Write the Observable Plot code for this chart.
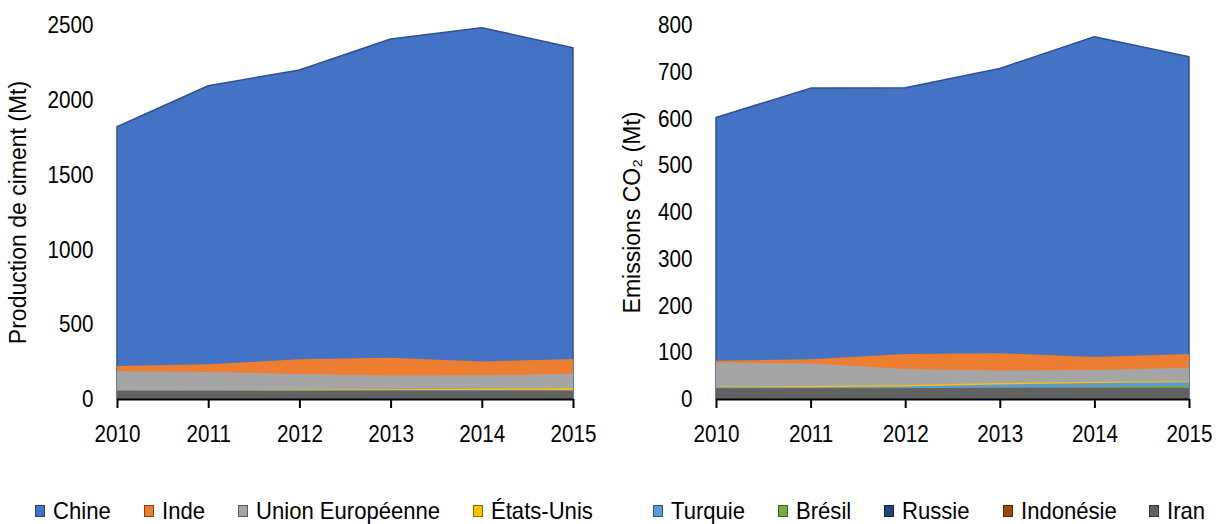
<!DOCTYPE html>
<html>
<head>
<meta charset="utf-8">
<script src="https://cdn.jsdelivr.net/npm/d3@7"></script>
<script src="https://cdn.jsdelivr.net/npm/@observablehq/plot@0.6"></script>
<style>
  html, body { margin: 0; padding: 0; background: #fff; }
  #wrap { position: relative; width: 1225px; height: 524px; overflow: hidden; font-family: "Liberation Sans", Arial, sans-serif; }
  #left { position: absolute; left: 0; top: 0; }
  #right { position: absolute; left: 610px; top: 0; }
  .legend { position: absolute; top: 497px; display: flex; align-items: center; font-size: 24px; color: #000; white-space: nowrap; }
  .legend .item { display: flex; align-items: center; margin-right: 33px; }
  .legend .sw { width: 10px; height: 12px; border: 1px solid rgba(0,0,0,0.45); margin-right: 8px; box-sizing: border-box; }
  .legend .outer { display: inline-block; }
  .legend .inner { display: inline-block; transform-origin: 0 50%; }
</style>
</head>
<body>
<div id="wrap">
  <div id="left"></div>
  <div id="right"></div>
  <div class="legend" id="legL" style="left:35px"></div>
  <div class="legend" id="legR" style="left:653px"></div>
</div>
<script>
const years = [2010, 2011, 2012, 2013, 2014, 2015];
const countries = ["Chine", "Inde", "Union Européenne", "États-Unis", "Turquie", "Brésil", "Russie", "Indonésie", "Iran"];
const colors = ["#4472C4", "#ED7D31", "#A5A5A5", "#FFC000", "#5B9BD5", "#70AD47", "#264478", "#9E480E", "#616161"];

// Production de ciment (Mt) — areas drawn from zero, overlapping
const prodChine = [1820, 2094, 2199, 2406, 2482, 2348];
const prodInde = [220, 232, 265, 275, 250, 268];
const prodUE = [186, 180, 167, 157, 158, 168];
const prodEtatsUnis = [56, 58, 62, 65, 68, 72];
const prodTurquie = [58, 57, 57, 59, 58, 57];
const prodBresil = [50, 52, 54, 54, 54, 52];
const prodRussie = [48, 50, 52, 53, 53, 50];
const prodIndonesie = [40, 45, 50, 53, 54, 53];
const prodIran = [55, 55, 55, 56, 56, 56];

// Emissions CO2 (Mt)
const co2Chine = [602, 665, 666, 707, 775, 732];
const co2Inde = [82, 85, 96, 98, 90, 96];
const co2UE = [78, 76, 64, 61, 62, 67];
const co2EtatsUnis = [27, 28, 30, 34, 37, 38];
const co2Turquie = [25, 25, 27, 31, 34, 36];
const co2Bresil = [21, 22, 23, 24, 26, 28];
const co2Russie = [20, 21, 22, 22, 22, 21];
const co2Indonesie = [18, 20, 21, 22, 22, 22];
const co2Iran = [23, 23, 23, 24, 24, 24];

const prodTicks = [0, 500, 1000, 1500, 2000, 2500];
const co2Ticks = [0, 100, 200, 300, 400, 500, 600, 700, 800];

const prodSeries = [prodChine, prodInde, prodUE, prodEtatsUnis, prodTurquie, prodBresil, prodRussie, prodIndonesie, prodIran];
const co2Series = [co2Chine, co2Inde, co2UE, co2EtatsUnis, co2Turquie, co2Bresil, co2Russie, co2Indonesie, co2Iran];

const NARROW = 0.86;
const NARROW_LEGEND = 0.92;

function rows(series) {
  return countries.map((c, i) => years.map((y, j) => ({country: c, year: y, value: series[i][j]})));
}

function panel(series, opts) {
  const data = rows(series);
  const marks = data.map((d, i) => Plot.areaY(d, {
    x: "year", y1: 0, y2: "value", fill: colors[i],
    stroke: i === 0 ? "#2F528F" : "none", strokeWidth: 1.5
  }));
  return Plot.plot({
    width: opts.width,
    height: 460,
    marginLeft: opts.marginLeft,
    marginRight: opts.marginRight,
    marginTop: 25,
    marginBottom: 61,
    style: {fontFamily: "'Liberation Sans', Arial, sans-serif", fontSize: "24px", color: "#000", background: "transparent", overflow: "visible"},
    x: {domain: [2010, 2015]},
    y: {domain: opts.domain},
    marks: [
      ...marks,
      Plot.ruleY([0], {stroke: "#000", strokeWidth: 2}),
      Plot.axisX({ticks: years, tickFormat: d => String(d), tickSize: 9, tickPadding: 16, strokeWidth: 2, label: null, fontSize: 24}),
      Plot.axisY({ticks: opts.ticks, tickFormat: d => String(d), tickSize: 0, tickPadding: 24, label: null, fontSize: 24}),
      Plot.text([opts.label], {text: d => d, frameAnchor: "left", textAnchor: "middle", lineAnchor: "middle", rotate: -90, dx: -opts.labelOffset, fontSize: 23, fill: "#000"})
    ]
  });
}

function narrowSvgText(svg) {
  svg.querySelectorAll("text").forEach(t => {
    if ((t.getAttribute("transform") || "").includes("rotate")) return;
    const L = t.getComputedTextLength();
    if (L > 0) {
      t.setAttribute("textLength", (L * NARROW).toFixed(2));
      t.setAttribute("lengthAdjust", "spacingAndGlyphs");
    }
  });
}

const leftSvg = panel(prodSeries, {
  width: 610, marginLeft: 117, marginRight: 37, domain: [0, 2500], ticks: prodTicks,
  label: "Production de ciment (Mt)", labelOffset: 99
});
document.getElementById("left").appendChild(leftSvg);
narrowSvgText(leftSvg);

const rightSvg = panel(co2Series, {
  width: 615, marginLeft: 106, marginRight: 36, domain: [0, 800], ticks: co2Ticks,
  label: "Emissions CO₂ (Mt)", labelOffset: 84
});
document.getElementById("right").appendChild(rightSvg);
narrowSvgText(rightSvg);

function legend(el, idx) {
  idx.forEach(i => {
    const item = document.createElement("div");
    item.className = "item";
    const sw = document.createElement("span");
    sw.className = "sw";
    sw.style.background = colors[i];
    const outer = document.createElement("span");
    outer.className = "outer";
    const inner = document.createElement("span");
    inner.className = "inner";
    inner.textContent = countries[i];
    outer.appendChild(inner);
    item.appendChild(sw);
    item.appendChild(outer);
    el.appendChild(item);
    const w = inner.getBoundingClientRect().width;
    outer.style.width = (w * NARROW_LEGEND) + "px";
    inner.style.transform = "scaleX(" + NARROW_LEGEND + ")";
  });
}
legend(document.getElementById("legL"), [0, 1, 2, 3]);
legend(document.getElementById("legR"), [4, 5, 6, 7, 8]);
</script>
</body>
</html>
